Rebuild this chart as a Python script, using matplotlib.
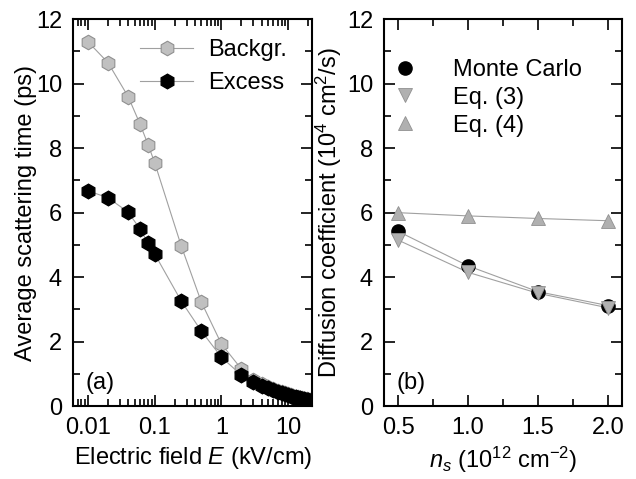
import matplotlib
matplotlib.use("Agg")
import matplotlib.pyplot as plt
from matplotlib.ticker import FixedLocator, FixedFormatter, LogLocator, NullFormatter, MultipleLocator

plt.rcParams['font.family'] = ['Liberation Sans', 'DejaVu Sans']
plt.rcParams['mathtext.fontset'] = 'custom'
plt.rcParams['mathtext.rm'] = 'Liberation Sans'
plt.rcParams['mathtext.it'] = 'Liberation Sans:italic'
plt.rcParams['font.size'] = 17

# panel (a): average scattering time vs electric field
field = [0.01, 0.02, 0.04, 0.06, 0.08, 0.1, 0.25, 0.5, 1, 2, 3, 4, 5, 6, 7, 8, 9, 10,
         11, 12, 13, 14, 15, 16, 17, 18, 19, 20, 21, 22, 23, 24, 25]
backgr = [11.3, 10.65, 9.6, 8.76, 8.1, 7.55, 4.97, 3.23, 1.93, 1.15, 0.82, 0.68, 0.59,
          0.52, 0.47, 0.43, 0.4, 0.37, 0.34, 0.32, 0.3, 0.28, 0.26, 0.25, 0.23, 0.22,
          0.21, 0.2, 0.19, 0.18, 0.17, 0.16, 0.15]
excess = [6.68, 6.46, 6.02, 5.5, 5.05, 4.72, 3.26, 2.33, 1.52, 0.96, 0.75, 0.63, 0.55,
          0.49, 0.44, 0.4, 0.37, 0.34, 0.32, 0.3, 0.28, 0.26, 0.24, 0.23, 0.21, 0.2,
          0.19, 0.18, 0.17, 0.16, 0.15, 0.14, 0.13]

# panel (b): diffusion coefficient vs carrier density
ns = [0.5, 1.0, 1.5, 2.0]
monte_carlo = [5.42, 4.35, 3.55, 3.12]
eq3 = [5.15, 4.15, 3.5, 3.05]
eq4 = [6.0, 5.9, 5.82, 5.75]

fig = plt.figure(figsize=(6.36, 4.79), dpi=100)
ax1 = fig.add_axes([0.115, 0.152, 0.376, 0.808])
ax2 = fig.add_axes([0.604, 0.152, 0.374, 0.808])

lc = '#a0a0a0'
ax1.plot(field, backgr, '-h', color=lc, lw=0.8, ms=10.5, mfc='#c0c0c0', mec='#909090',
         mew=0.8, label='Backgr.')
ax1.plot(field, excess, '-h', color=lc, lw=0.8, ms=10.5, mfc='black', mec='black',
         label='Excess')
ax1.set_xscale('log')
ax1.set_xlim(0.006, 23)
ax1.set_ylim(0, 12)
ax1.xaxis.set_major_locator(FixedLocator([0.01, 0.1, 1, 10]))
ax1.xaxis.set_major_formatter(FixedFormatter(['0.01', '0.1', '1', '10']))
ax1.xaxis.set_minor_locator(LogLocator(base=10, subs=range(2, 10), numticks=20))
ax1.xaxis.set_minor_formatter(NullFormatter())
ax1.yaxis.set_major_locator(MultipleLocator(2))
ax1.yaxis.set_minor_locator(MultipleLocator(1))
ax1.set_xlabel('Electric field $\\mathit{E}$ (kV/cm)')
ax1.set_ylabel('Average scattering time (ps)', labelpad=-1)
ax1.legend(loc='upper right', bbox_to_anchor=(0.935, 0.972), frameon=False,
           handlelength=2.25, handletextpad=0.64, borderaxespad=0, labelspacing=0.45)
ax1.text(0.05, 0.045, '(a)', transform=ax1.transAxes)

ax2.plot(ns, monte_carlo, '-', color=lc, lw=0.8)
ax2.plot(ns, eq3, '-', color=lc, lw=0.8)
ax2.plot(ns, eq4, '-', color=lc, lw=0.8)
ax2.plot(ns, monte_carlo, 'o', ls='none', ms=9.5, mfc='black', mec='black', label='Monte Carlo')
ax2.plot(ns, eq3, 'v', ls='none', ms=9.5, mfc='#b0b0b0', mec='#909090', mew=0.6, label='Eq. (3)')
ax2.plot(ns, eq4, '^', ls='none', ms=9.5, mfc='#b0b0b0', mec='#909090', mew=0.6, label='Eq. (4)')
ax2.set_xlim(0.4, 2.1)
ax2.set_ylim(0, 12)
ax2.xaxis.set_major_locator(FixedLocator([0.5, 1.0, 1.5, 2.0]))
ax2.xaxis.set_major_formatter(FixedFormatter(['0.5', '1.0', '1.5', '2.0']))
ax2.xaxis.set_minor_locator(MultipleLocator(0.25))
ax2.yaxis.set_major_locator(MultipleLocator(2))
ax2.yaxis.set_minor_locator(MultipleLocator(1))
ax2.set_xlabel('$\\mathit{n_s}$ (10$^{12}$ cm$^{-2}$)')
ax2.set_ylabel('Diffusion coefficient (10$^4$ cm$^2$/s)', labelpad=2)
ax2.legend(loc='upper left', bbox_to_anchor=(0.0, 0.922), frameon=False,
           handlelength=1.0, handletextpad=1.5, borderaxespad=0, labelspacing=0.25)
ax2.text(0.05, 0.045, '(b)', transform=ax2.transAxes)

for ax in (ax1, ax2):
    ax.tick_params(which='both', direction='in', top=True, right=True, width=1.2)
    ax.tick_params(which='major', length=8, labelsize=17, pad=8)
    ax.tick_params(which='minor', length=5)
    for sp in ax.spines.values():
        sp.set_linewidth(1.5)

fig.savefig('out.png', dpi=100)
